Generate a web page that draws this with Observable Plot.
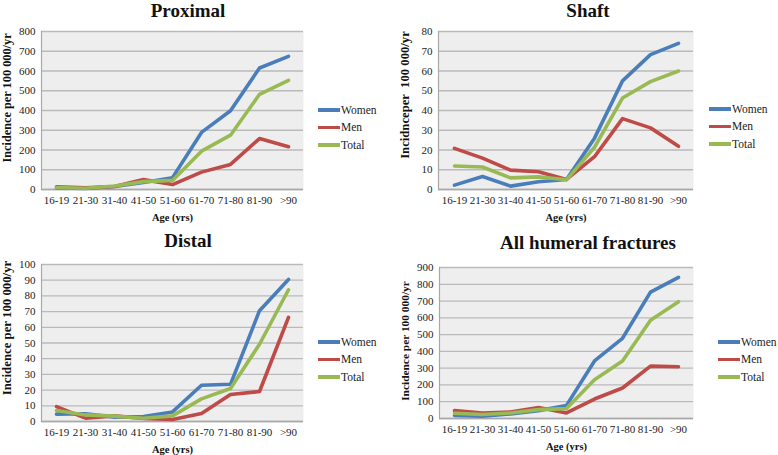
<!DOCTYPE html>
<html>
<head>
<meta charset="utf-8">
<script src="https://cdn.jsdelivr.net/npm/d3@7"></script>
<script src="https://cdn.jsdelivr.net/npm/@observablehq/plot@0.6"></script>
<style>
  html, body { margin: 0; padding: 0; background: #fff; }
  #root { position: relative; width: 778px; height: 455px; color: #222; overflow: hidden; }
  .panel { position: absolute; }
  .title { position: absolute; font-weight: bold; font-size: 19px; line-height: 22px; text-align: center; transform: translateX(-50%); white-space: nowrap; color: #111; }
  .ylab { position: absolute; font-weight: bold; white-space: nowrap; transform: translate(-50%, -50%) rotate(-90deg); line-height: 1; color: #111; }
  .legend { position: absolute; font-size: 11.5px; }
  .legend .row { display: flex; align-items: center; height: 17.5px; }
  .legend .sw { width: 22px; height: 3.5px; margin-right: 1px; }
</style>
</head>
<body>
<div id="root"></div>
<script>
const FONT = "'Liberation Serif', 'Times New Roman', Tinos, serif";

const ages = ["16-19","21-30","31-40","41-50","51-60","61-70","71-80","81-90",">90"];
const seriesNames = ["Women","Men","Total"];
const seriesColors = ["#4a7ebb","#be4b48","#98b954"];

const proximalWomen = [8, 5, 15, 35, 60, 289, 399, 615, 674];
const proximalMen   = [14, 8, 15, 50, 25, 88, 127, 258, 217];
const proximalTotal = [10, 6, 18, 40, 46, 194, 275, 482, 553];

const shaftWomen = [2.2, 6.6, 1.7, 3.9, 5.1, 26, 55, 68.3, 74];
const shaftMen   = [20.8, 15.9, 9.8, 9, 5.1, 16.6, 35.9, 31.2, 21.9];
const shaftTotal = [11.9, 11.4, 5.9, 6.4, 4.9, 21.4, 46.3, 54.6, 60];

const distalWomen = [4.7, 4.9, 2.8, 3.2, 6.1, 23.1, 23.7, 70.6, 90.5];
const distalMen   = [9.5, 2.1, 3.6, 1.9, 1.3, 5.1, 17.2, 19.1, 66.3];
const distalTotal = [7, 4.2, 3.4, 2.1, 3.6, 14.4, 21, 49.2, 83.9];

const allWomen = [18, 14, 27, 47, 78, 343, 478, 753, 841];
const allMen   = [47, 33, 39, 65, 33, 116, 182, 312, 308];
const allTotal = [31, 24, 33, 53, 59, 231, 343, 586, 696];

const panels = [
  {title: "Proximal", ylabel: "Incidence per 100 000/yr", series: [proximalWomen, proximalMen, proximalTotal], ymax: 800, step: 100,
   left: 0, top: 25, width: 390, height: 199, mt: 6, mb: 35, ml: 41, mr: 87, tx: 188, ty: 0, lx: 318, ly: 101,
   ylx: 6.5, yly: 98, ylsize: 12.3},
  {title: "Shaft", ylabel: "Incidnceper  100 000/yr", series: [shaftWomen, shaftMen, shaftTotal], ymax: 80, step: 10,
   left: 390, top: 25, width: 388, height: 199, mt: 6, mb: 35, ml: 48, mr: 85, tx: 588, ty: 0, lx: 709, ly: 100,
   ylx: 405, yly: 95, ylsize: 12.7},
  {title: "Distal", ylabel: "Incidence per 100 000/yr", series: [distalWomen, distalMen, distalTotal], ymax: 100, step: 10,
   left: 0, top: 258, width: 390, height: 197, mt: 6, mb: 34, ml: 41, mr: 87, tx: 188, ty: 230, lx: 318, ly: 333,
   ylx: 6.5, yly: 328, ylsize: 12.8},
  {title: "All humeral fractures", ylabel: "Incidence per 100 000/yr", series: [allWomen, allMen, allTotal], ymax: 900, step: 100,
   left: 390, top: 261, width: 388, height: 194, mt: 6, mb: 37, ml: 49, mr: 85, tx: 588, ty: 232, lx: 718, ly: 333,
   ylx: 406, yly: 341, ylsize: 11.4}
];

const root = document.getElementById("root");
root.style.fontFamily = FONT;

for (const p of panels) {
  const rows = [];
  p.series.forEach((vals, si) => {
    vals.forEach((v, i) => rows.push({age: ages[i], value: v, series: seriesNames[si]}));
  });
  const ticks = d3.range(0, p.ymax + p.step / 2, p.step);
  const chart = Plot.plot({
    width: p.width,
    height: p.height,
    marginTop: p.mt,
    marginBottom: p.mb,
    marginLeft: p.ml,
    marginRight: p.mr,
    style: {fontFamily: FONT, fontSize: "11px", color: "#222", background: "transparent"},
    x: {type: "point", domain: ages, padding: 0.5, label: "Age (yrs)", labelAnchor: "center", labelOffset: 31, tickSize: 0, tickPadding: 7},
    y: {domain: [0, p.ymax], ticks: ticks, label: null, tickSize: 0, tickPadding: 6},
    color: {domain: seriesNames, range: seriesColors},
    marks: [
      Plot.frame({fill: "#eeeeee", stroke: "none"}),
      Plot.gridY(ticks, {stroke: "#bababa", strokeOpacity: 1, strokeWidth: 1.3}),
      Plot.frame({anchor: "left", stroke: "#a8a8a8", strokeWidth: 1.2}),
      Plot.ruleY([0], {stroke: "#a8a8a8", strokeWidth: 1.3}),
      Plot.line(rows, {x: "age", y: "value", z: "series", stroke: "series", strokeWidth: 3.6, strokeLinejoin: "round", strokeLinecap: "round"})
    ]
  });
  chart.querySelectorAll("g, text").forEach(el => { el.style.fontFamily = FONT; });
  chart.querySelectorAll('[aria-label="x-axis label"] text, [aria-label="x-axis label"]').forEach(el => {
    el.style.fontWeight = "bold"; el.style.fontSize = "10.5px"; el.style.fill = "#111";
  });
  const wrap = document.createElement("div");
  wrap.className = "panel";
  wrap.style.left = p.left + "px";
  wrap.style.top = p.top + "px";
  wrap.appendChild(chart);
  root.appendChild(wrap);

  const t = document.createElement("div");
  t.className = "title";
  t.textContent = p.title;
  t.style.left = p.tx + "px";
  t.style.top = p.ty + "px";
  t.style.fontFamily = FONT;
  root.appendChild(t);

  const yl = document.createElement("div");
  yl.className = "ylab";
  yl.textContent = p.ylabel;
  yl.style.whiteSpace = "pre";
  yl.style.left = p.ylx + "px";
  yl.style.top = p.yly + "px";
  yl.style.fontSize = p.ylsize + "px";
  yl.style.fontFamily = FONT;
  root.appendChild(yl);

  const lg = document.createElement("div");
  lg.className = "legend";
  lg.style.left = p.lx + "px";
  lg.style.top = p.ly + "px";
  lg.style.fontFamily = FONT;
  seriesNames.forEach((n, i) => {
    const r = document.createElement("div");
    r.className = "row";
    const sw = document.createElement("span");
    sw.className = "sw";
    sw.style.background = seriesColors[i];
    const tx = document.createElement("span");
    tx.textContent = n;
    tx.style.fontFamily = FONT;
    r.appendChild(sw);
    r.appendChild(tx);
    lg.appendChild(r);
  });
  root.appendChild(lg);
}
</script>
</body>
</html>
